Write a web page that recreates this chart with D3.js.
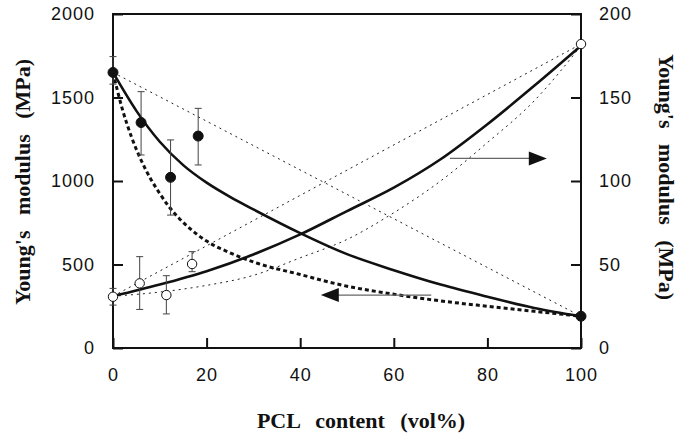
<!DOCTYPE html>
<html>
<head>
<meta charset="utf-8">
<script src="https://cdn.jsdelivr.net/npm/d3@7"></script>
<style>
	body { margin: 0; background: #fff; }
	.tick text { font-family: "Liberation Sans", Arial, sans-serif; font-size: 18px; letter-spacing: 1px; fill: #111; }
	.title { font-family: "Liberation Serif", "Times New Roman", serif; font-weight: bold; font-size: 22px; word-spacing: 10px; fill: #111; }
</style>
</head>
<body>
<div id="chart"></div>
<script>
// tick values
const xTicks = [0, 20, 40, 60, 80, 100];
const leftTicks = [0, 500, 1000, 1500, 2000];
const rightTicks = [0, 50, 100, 150, 200];

// filled circles (left axis, MPa)
const filledX = [0, 6, 12.3, 18.2, 100];
const filledE = [1650, 1350, 1022, 1269, 190];
const filledLo = [1580, 1156, 796, 1096, null];
const filledHi = [1745, 1535, 1246, 1435, null];

// open circles (right axis, MPa)
const openX = [0, 5.7, 11.4, 16.9, 100];
const openE = [30.7, 38.7, 31.7, 50.3, 182];
const openLo = [25.7, 23.1, 20.4, 45.7, null];
const openHi = [35.7, 54.7, 43.3, 57.7, null];

// model curves, left axis
const solidDecX = [0, 5, 10, 15, 20, 25, 30, 40, 50, 60, 70, 80, 90, 100];
const solidDecE = [1650, 1420, 1235, 1095, 990, 905, 830, 688, 562, 466, 380, 307, 240, 190];
const dashDecX = [0, 2, 4, 6, 8, 10, 12, 14, 16, 20, 25, 30, 40, 50, 60, 70, 80, 90, 100];
const dashDecE = [1650, 1430, 1260, 1125, 1015, 925, 845, 780, 726, 640, 570, 515, 440, 370, 322, 282, 250, 220, 190];
const dotDecX = [0, 100];
const dotDecE = [1650, 190];

// model curves, right axis
const solidIncX = [0, 10, 20, 30, 40, 50, 60, 70, 80, 90, 100];
const solidIncE = [31, 38, 46, 56, 68, 82, 96, 113, 134, 157, 181];
const dotIncLowX = [0, 10, 20, 30, 40, 50, 60, 70, 80, 90, 100];
const dotIncLowE = [31, 33.5, 37.5, 43.5, 54, 65, 81, 100, 123, 148, 181];
const dotIncHighX = [0, 100];
const dotIncHighE = [31, 182];

// arrows: [from x, to x, y]
const arrowRight = [72, 92.7, 113.5];  // right axis
const arrowLeft = [68, 44.4, 317];     // left axis

const margin = { top: 14, right: 98, bottom: 87, left: 113 };
const width = 679 - margin.left - margin.right;
const height = 435 - margin.top - margin.bottom;

const svg = d3.select("#chart").append("svg")
	.attr("width", 679)
	.attr("height", 435)
	.append("g")
	.attr("transform", "translate(" + margin.left + "," + margin.top + ")");

const x = d3.scaleLinear().domain([0, 100]).range([0, width]);
const yL = d3.scaleLinear().domain([0, 2000]).range([height, 0]);
const yR = d3.scaleLinear().domain([0, 200]).range([height, 0]);

// axes, ticks pointing inward
const fmt = d3.format("d");
const gx = svg.append("g")
	.attr("transform", "translate(0," + height + ")")
	.call(d3.axisBottom(x).tickValues(xTicks).tickFormat(fmt).tickSize(-10).tickPadding(20));
const gl = svg.append("g")
	.call(d3.axisLeft(yL).tickValues(leftTicks).tickFormat(fmt).tickSize(-10).tickPadding(18));
const gr = svg.append("g")
	.attr("transform", "translate(" + width + ",0)")
	.call(d3.axisRight(yR).tickValues(rightTicks).tickFormat(fmt).tickSize(-10).tickPadding(18));
[gx, gl, gr].forEach(g => {
	g.select(".domain").remove();
	g.selectAll(".tick line").attr("stroke", "#111").attr("stroke-width", 2);
});

svg.append("rect")
	.attr("width", width)
	.attr("height", height)
	.attr("fill", "none")
	.attr("stroke", "#111")
	.attr("stroke-width", 2);

// lines
function drawCurve(xs, ys, yScale, style) {
	const pts = xs.map((v, i) => [v, ys[i]]);
	const line = d3.line()
		.x(d => x(d[0]))
		.y(d => yScale(d[1]))
		.curve(d3.curveMonotoneX);
	svg.append("path")
		.datum(pts)
		.attr("fill", "none")
		.attr("stroke", style.color || "#111")
		.attr("stroke-width", style.w)
		.attr("stroke-dasharray", style.dash || null)
		.attr("d", line);
}

drawCurve(dotDecX, dotDecE, yL, { w: 1, dash: "2,4", color: "#222" });
drawCurve(dotIncHighX, dotIncHighE, yR, { w: 1, dash: "2,4", color: "#222" });
drawCurve(dotIncLowX, dotIncLowE, yR, { w: 1, dash: "2,4", color: "#222" });
drawCurve(dashDecX, dashDecE, yL, { w: 3, dash: "4,3" });
drawCurve(solidDecX, solidDecE, yL, { w: 2.6 });
drawCurve(solidIncX, solidIncE, yR, { w: 2.6 });

// arrows
function drawArrow(a, yScale) {
	const x0 = x(a[0]), x1 = x(a[1]), yy = yScale(a[2]);
	const dir = x1 > x0 ? 1 : -1;
	svg.append("line")
		.attr("x1", x0).attr("x2", x1 - dir * 10)
		.attr("y1", yy).attr("y2", yy)
		.attr("stroke", "#666")
		.attr("stroke-width", 1.2);
	svg.append("path")
		.attr("d", "M" + x1 + "," + yy + "L" + (x1 - dir * 18) + "," + (yy - 7) + "L" + (x1 - dir * 18) + "," + (yy + 7) + "Z")
		.attr("fill", "#111");
}
drawArrow(arrowRight, yR);
drawArrow(arrowLeft, yL);

// error bars + markers
function drawPoints(xs, ys, lo, hi, yScale, filled) {
	const data = xs.map((v, i) => ({ x: v, y: ys[i], lo: lo[i], hi: hi[i] }));
	const eb = data.filter(d => d.lo != null);
	const g = svg.append("g").attr("stroke", "#444").attr("stroke-width", 1);
	g.selectAll(".v").data(eb).enter().append("line")
		.attr("x1", d => x(d.x)).attr("x2", d => x(d.x))
		.attr("y1", d => yScale(d.lo)).attr("y2", d => yScale(d.hi));
	g.selectAll(".ct").data(eb).enter().append("line")
		.attr("x1", d => x(d.x) - 3.5).attr("x2", d => x(d.x) + 3.5)
		.attr("y1", d => yScale(d.hi)).attr("y2", d => yScale(d.hi));
	g.selectAll(".cb").data(eb).enter().append("line")
		.attr("x1", d => x(d.x) - 3.5).attr("x2", d => x(d.x) + 3.5)
		.attr("y1", d => yScale(d.lo)).attr("y2", d => yScale(d.lo));
	svg.selectAll(null).data(data).enter().append("circle")
		.attr("r", filled ? 5 : 4.7)
		.attr("cx", d => x(d.x))
		.attr("cy", d => yScale(d.y))
		.attr("fill", filled ? "#111" : "#fff")
		.attr("stroke", "#111")
		.attr("stroke-width", 1);
}
drawPoints(filledX, filledE, filledLo, filledHi, yL, true);
drawPoints(openX, openE, openLo, openHi, yR, false);

// titles
svg.append("text")
	.attr("class", "title")
	.attr("transform", "translate(-91," + (height / 2 + 1) + ") rotate(-90)")
	.attr("text-anchor", "middle")
	.attr("dy", "0.35em")
	.text("Young's modulus (MPa)");
svg.append("text")
	.attr("class", "title")
	.attr("transform", "translate(" + (width + 86) + "," + (height / 2 - 4) + ") rotate(90)")
	.attr("text-anchor", "middle")
	.attr("dy", "0.35em")
	.text("Young's modulus (MPa)");
svg.append("text")
	.attr("class", "title")
	.attr("x", width / 2 + 14)
	.attr("y", height + 80)
	.attr("text-anchor", "middle")
	.text("PCL content (vol%)");
</script>
</body>
</html>
